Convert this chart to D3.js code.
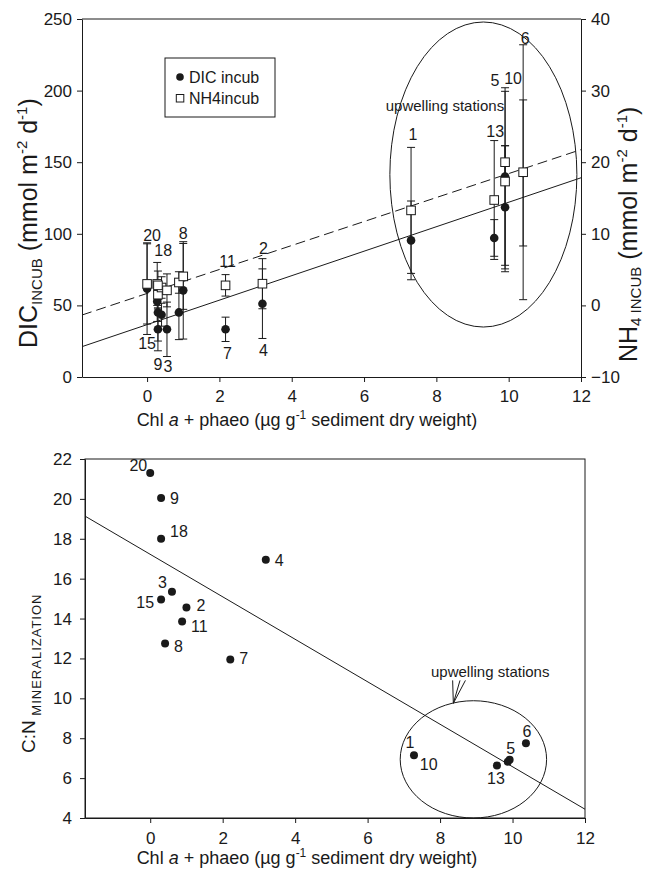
<!DOCTYPE html>
<html>
<head>
<meta charset="utf-8">
<script src="https://cdn.jsdelivr.net/npm/d3@7"></script>
<style>
  html, body { margin: 0; padding: 0; background: #fff; }
  svg text { font-family: "Liberation Sans", Arial, Helvetica, sans-serif; fill: #1a1a1a; }
</style>
</head>
<body>
<svg id="chart" width="646" height="875"></svg>
<script>
// ---------- Upper panel: incubation fluxes vs. sediment pigments ----------
const chlTop     = [0.00, 0.28, 0.30, 0.40, 0.30, 0.55, 0.88, 1.00, 2.17, 3.19, 7.30, 9.60, 9.90, 9.90, 10.40];
const dicIncub   = [61.7, 52.8, 45.1, 43.5, 33.3, 33.3, 45.1, 60.5, 33.3, 51.2, 95.4, 97.1, 118.5, 140.0, 142.5];
const dicErr     = [32, 14, 20, 8, 15, 19, 19, 34, 8.5, 24.3, 27.5, 12.8, 43, 62, 51];
const nh4Incub   = [3.0, 3.0, 1.5, 2.5, 2.8, 2.1, 3.2, 4.05, 2.8, 3.03, 13.27, 14.72, 17.3, 20.0, 18.6];
const nh4Err     = [5.6, 3.0, 2.0, 1.5, 2.0, 2.3, 1.5, 4.6, 1.5, 3.5, 8.8, 8.3, 12.6, 2.3, 17.8];
const labelAbove = ["20", "18", "", "", "", "", "", "8", "11", "2", "1", "13", "5", "10", "6"];
const labelBelow = ["15", "", "", "", "9", "3", "", "", "7", "4", "", "", "", "", ""];
const dicTicks   = [0, 50, 100, 150, 200, 250];
const nh4Ticks   = [-10, 0, 10, 20, 30, 40];
const chlTicks   = [0, 2, 4, 6, 8, 10, 12];
const dicFit     = { intercept: 36.58, slope: 8.545 };
const nh4Fit     = { intercept: 1.67, slope: 1.674 };

// ---------- Lower panel: C:N of mineralization ----------
const chlBottom  = [0.00, 0.30, 0.30, 3.19, 0.60, 0.30, 1.00, 0.88, 0.41, 2.21, 7.28, 9.87, 9.92, 9.57, 10.37];
const cnRatio    = [21.3, 20.05, 18.0, 16.95, 15.35, 14.95, 14.55, 13.85, 12.75, 11.95, 7.15, 6.82, 6.92, 6.63, 7.75];
const cnStation  = ["20", "9", "18", "4", "3", "15", "2", "11", "8", "7", "1", "10", "5", "13", "6"];
const cnTicks    = [4, 6, 8, 10, 12, 14, 16, 18, 20, 22];
const cnFit      = { intercept: 17.22, slope: -1.065 };

// ---------- layout ----------
const INK = "#1a1a1a";
const FONT = '"Liberation Sans", Arial, Helvetica, sans-serif';
const svg = d3.select("#chart");

const P1 = { left: 82, right: 581, top: 19, bottom: 377 };
const P2 = { left: 85, right: 585, top: 459, bottom: 818 };

const xTop = d3.scaleLinear().domain([-1.8, 12]).range([P1.left, P1.right]);
const yDic = d3.scaleLinear().domain([0, 250]).range([P1.bottom, P1.top]);
const yNh4 = d3.scaleLinear().domain([-10, 40]).range([P1.bottom, P1.top]);
const xBot = d3.scaleLinear().domain([-1.8, 12]).range([P2.left, P2.right]);
const yCn  = d3.scaleLinear().domain([4, 22]).range([P2.bottom, P2.top]);

// label nudges (pixels) for the station numbers
const topNudgeAbove = { "20": [5, -2], "18": [6, -6], "8": [0, -3], "11": [2, -8], "2": [1, -5],
                        "1": [2, -7], "13": [1, -4], "5": [-10, -5], "10": [8, -4], "6": [2, -1] };
const topNudgeBelow = { "15": [0, 15], "9": [0, 19], "3": [1, 15], "7": [2, 18], "4": [1, 18] };
const botLabel = {
  "20": [-3, -2, "end"], "9": [9, 6, "start"], "18": [9, -2, "start"], "4": [9, 6, "start"],
  "3": [-5, -4, "end"], "15": [-7, 8, "end"], "2": [10, 3, "start"], "11": [9, 10, "start"],
  "8": [9, 9, "start"], "7": [9, 5, "start"], "1": [-4, -7, "middle"], "10": [-88, 8, "start"],
  "5": [1, -6, "middle"], "13": [-1, 18, "middle"], "6": [1, -6, "middle"]
};

function styleAxis(g, size) {
  g.attr("font-family", FONT).attr("font-size", size);
  g.selectAll("path, line").attr("stroke", INK).attr("stroke-width", 1);
  g.selectAll("text").attr("fill", INK);
}

// ================= Upper panel =================
const g1 = svg.append("g");

// frame top edge
g1.append("line").attr("x1", P1.left).attr("x2", P1.right).attr("y1", P1.top).attr("y2", P1.top)
  .attr("stroke", INK);

g1.append("g").attr("transform", `translate(${P1.left},0)`)
  .call(d3.axisLeft(yDic).tickValues(dicTicks).tickSize(5).tickPadding(5).tickSizeOuter(0))
  .call(styleAxis, 17);
g1.append("g").attr("transform", `translate(${P1.right},0)`)
  .call(d3.axisRight(yNh4).tickValues(nh4Ticks).tickSize(5).tickPadding(5).tickSizeOuter(0))
  .call(styleAxis, 17);
g1.append("g").attr("transform", `translate(0,${P1.bottom})`)
  .call(d3.axisBottom(xTop).tickValues(chlTicks).tickSize(5).tickPadding(8).tickSizeOuter(0))
  .call(styleAxis, 17);

// regression lines
const xs = xTop.domain();
g1.append("line")
  .attr("x1", xTop(xs[0])).attr("y1", yDic(dicFit.intercept + dicFit.slope * xs[0]))
  .attr("x2", xTop(xs[1])).attr("y2", yDic(dicFit.intercept + dicFit.slope * xs[1]))
  .attr("stroke", INK).attr("stroke-width", 1);
g1.append("line")
  .attr("x1", xTop(xs[0])).attr("y1", yNh4(nh4Fit.intercept + nh4Fit.slope * xs[0]))
  .attr("x2", xTop(xs[1])).attr("y2", yNh4(nh4Fit.intercept + nh4Fit.slope * xs[1]))
  .attr("stroke", INK).attr("stroke-width", 1).attr("stroke-dasharray", "10,5");

// upwelling ellipse
g1.append("ellipse")
  .attr("cx", xTop(9.3)).attr("cy", yDic(141.4))
  .attr("rx", xTop(9.3 + 2.586) - xTop(9.3)).attr("ry", yDic(141.4) - yDic(141.4 + 106.5))
  .attr("fill", "none").attr("stroke", INK).attr("stroke-width", 1);
g1.append("text").attr("x", xTop(6.6)).attr("y", yDic(186))
  .attr("font-size", 15).text("upwelling stations");

// error bars
const idx = d3.range(chlTop.length);
function errBar(g, x, y0, y1) {
  g.append("line").attr("x1", x).attr("x2", x).attr("y1", y0).attr("y2", y1).attr("stroke", INK);
  [y0, y1].forEach(y => g.append("line").attr("x1", x - 4).attr("x2", x + 4)
    .attr("y1", y).attr("y2", y).attr("stroke", INK));
}
const gErr = g1.append("g");
idx.forEach(i => {
  const x = xTop(chlTop[i]);
  errBar(gErr, x, yDic(dicIncub[i] - dicErr[i]), yDic(dicIncub[i] + dicErr[i]));
  errBar(gErr, x, yNh4(nh4Incub[i] - nh4Err[i]), yNh4(nh4Incub[i] + nh4Err[i]));
});

// DIC points (filled) under NH4 points (open squares)
g1.append("g").selectAll("circle").data(idx).join("circle")
  .attr("cx", i => xTop(chlTop[i])).attr("cy", i => yDic(dicIncub[i])).attr("r", 4.3)
  .attr("fill", INK);
g1.append("g").selectAll("rect").data(idx).join("rect")
  .attr("x", i => xTop(chlTop[i]) - 4.3).attr("y", i => yNh4(nh4Incub[i]) - 4.3)
  .attr("width", 8.6).attr("height", 8.6)
  .attr("fill", "#fff").attr("stroke", INK).attr("stroke-width", 1);

// station numbers
const gLab = g1.append("g").attr("font-size", 16).attr("text-anchor", "middle");
idx.forEach(i => {
  const x = xTop(chlTop[i]);
  const hi = Math.min(yDic(dicIncub[i] + dicErr[i]), yNh4(nh4Incub[i] + nh4Err[i]));
  const lo = Math.max(yDic(dicIncub[i] - dicErr[i]), yNh4(nh4Incub[i] - nh4Err[i]));
  if (labelAbove[i]) {
    const n = topNudgeAbove[labelAbove[i]] || [0, -4];
    gLab.append("text").attr("x", x + n[0]).attr("y", hi + n[1]).text(labelAbove[i]);
  }
  if (labelBelow[i]) {
    const n = topNudgeBelow[labelBelow[i]] || [0, 16];
    gLab.append("text").attr("x", x + n[0]).attr("y", lo + n[1]).text(labelBelow[i]);
  }
});

// legend
const lg = g1.append("g");
lg.append("rect").attr("x", 165).attr("y", 58).attr("width", 110).attr("height", 59)
  .attr("fill", "#fff").attr("stroke", INK);
lg.append("circle").attr("cx", 180).attr("cy", 77).attr("r", 3.8).attr("fill", INK);
lg.append("text").attr("x", 189).attr("y", 82.5).attr("font-size", 16).text("DIC incub");
lg.append("rect").attr("x", 176.3).attr("y", 94.5).attr("width", 7.5).attr("height", 7.5)
  .attr("fill", "#fff").attr("stroke", INK);
lg.append("text").attr("x", 189).attr("y", 104).attr("font-size", 16).text("NH4incub");

// axis titles
const t1 = g1.append("text").attr("transform", "translate(37,348) rotate(-90)").attr("font-size", 25);
t1.append("tspan").text("DIC");
t1.append("tspan").attr("font-size", 15).attr("dy", 5).text("INCUB");
t1.append("tspan").attr("dy", -5).text(" (mmol m");
t1.append("tspan").attr("font-size", 15).attr("dy", -10).text("-2");
t1.append("tspan").attr("dy", 10).text(" d");
t1.append("tspan").attr("font-size", 15).attr("dy", -10).text("-1");
t1.append("tspan").attr("dy", 10).text(")");

const t2 = g1.append("text").attr("transform", "translate(637,362) rotate(-90)").attr("font-size", 25);
t2.append("tspan").text("NH");
t2.append("tspan").attr("font-size", 15).attr("dy", 4).text("4 INCUB");
t2.append("tspan").attr("dy", -4).text(" (mmol m");
t2.append("tspan").attr("font-size", 15).attr("dy", -10).text("-2");
t2.append("tspan").attr("dy", 10).text(" d");
t2.append("tspan").attr("font-size", 15).attr("dy", -10).text("-1");
t2.append("tspan").attr("dy", 10).text(")");

function xTitle(g, cx, y) {
  const t = g.append("text").attr("x", cx).attr("y", y).attr("font-size", 18).attr("text-anchor", "middle");
  t.append("tspan").text("Chl ");
  t.append("tspan").attr("font-style", "italic").text("a");
  t.append("tspan").text(" + phaeo (\u00b5g g");
  t.append("tspan").attr("font-size", 12).attr("dy", -7).text("-1");
  t.append("tspan").attr("dy", 7).text(" sediment dry weight)");
}
xTitle(g1, 307, 426);

// ================= Lower panel =================
const g2 = svg.append("g");
g2.append("rect").attr("x", P2.left).attr("y", P2.top)
  .attr("width", P2.right - P2.left).attr("height", P2.bottom - P2.top)
  .attr("fill", "none").attr("stroke", INK);

g2.append("g").attr("transform", `translate(${P2.left},0)`)
  .call(d3.axisLeft(yCn).tickValues(cnTicks).tickSize(5).tickPadding(8).tickSizeOuter(0))
  .call(styleAxis, 17);
g2.append("g").attr("transform", `translate(0,${P2.bottom})`)
  .call(d3.axisBottom(xBot).tickValues(chlTicks).tickSize(5).tickPadding(9).tickSizeOuter(0))
  .call(styleAxis, 17);

const xb = xBot.domain();
g2.append("line")
  .attr("x1", xBot(xb[0])).attr("y1", yCn(cnFit.intercept + cnFit.slope * xb[0]))
  .attr("x2", xBot(xb[1])).attr("y2", yCn(cnFit.intercept + cnFit.slope * xb[1]))
  .attr("stroke", INK).attr("stroke-width", 1);

g2.append("ellipse")
  .attr("cx", xBot(8.92)).attr("cy", yCn(6.94))
  .attr("rx", xBot(8.92 + 2.02) - xBot(8.92)).attr("ry", yCn(6.94) - yCn(6.94 + 2.94))
  .attr("fill", "none").attr("stroke", INK);

g2.append("text").attr("x", xBot(7.75)).attr("y", yCn(11.05)).attr("font-size", 15).text("upwelling stations");
// pointer arrow toward the upwelling group
const tip = [xBot(8.366), yCn(9.75)];
[[8.347, 10.9], [8.55, 10.9], [8.70, 10.9]].forEach(p => {
  g2.append("line").attr("x1", xBot(p[0])).attr("y1", yCn(p[1]))
    .attr("x2", tip[0]).attr("y2", tip[1]).attr("stroke", INK);
});

const idx2 = d3.range(chlBottom.length);
g2.append("g").selectAll("circle").data(idx2).join("circle")
  .attr("cx", i => xBot(chlBottom[i])).attr("cy", i => yCn(cnRatio[i])).attr("r", 4)
  .attr("fill", INK);
g2.append("g").attr("font-size", 16).selectAll("text").data(idx2).join("text")
  .attr("x", i => xBot(chlBottom[i]) + botLabel[cnStation[i]][0])
  .attr("y", i => yCn(cnRatio[i]) + botLabel[cnStation[i]][1])
  .attr("text-anchor", i => botLabel[cnStation[i]][2])
  .text(i => cnStation[i]);

const t3 = g2.append("text").attr("transform", "translate(35,753) rotate(-90)").attr("font-size", 19);
t3.append("tspan").text("C:N");
t3.append("tspan").attr("font-size", 13).attr("dy", 6).attr("letter-spacing", 1).text(" MINERALIZATION");

xTitle(g2, 307, 864);
</script>
</body>
</html>
